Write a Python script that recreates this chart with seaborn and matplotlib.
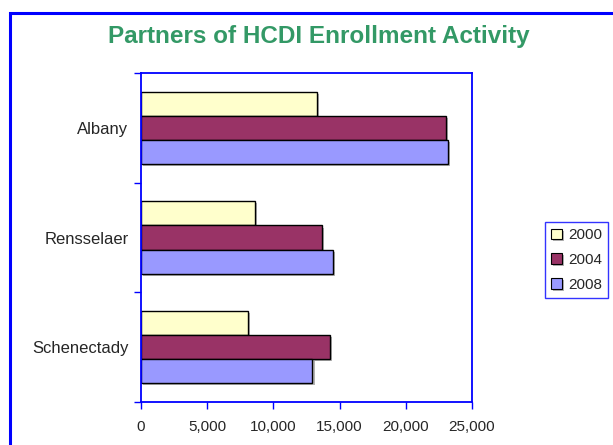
import matplotlib
matplotlib.use('Agg')
import matplotlib.pyplot as plt
import matplotlib.patheffects as pe
from matplotlib.patches import Rectangle
from matplotlib.ticker import FuncFormatter, FixedLocator
import pandas as pd
import seaborn as sns

#--- data
counties = ['Albany', 'Rensselaer', 'Schenectady']
years = ['2000', '2004', '2008']
v2000 = [13300, 8600, 8100]
v2004 = [23050, 13700, 14300]
v2008 = [23150, 14500, 12950]
colors = ['#FFFFCC', '#993366', '#9999FF']

rows = []
for yr, vals in zip(years, [v2000, v2004, v2008]):
    for c, v in zip(counties, vals):
        rows.append({'county': c, 'year': yr, 'value': v})
df = pd.DataFrame(rows)

sns.set_style('white')
plt.rcParams['font.family'] = ['Liberation Sans', 'DejaVu Sans']

blue = '#0000FF'
fig = plt.figure(figsize=(6.13, 4.45), dpi=100)
ax = fig.add_axes([141/613, 1-402/445, (472-141)/613, (402-73)/445])

sns.barplot(data=df, x='value', y='county', hue='year', orient='h',
            palette=colors, width=0.66, edgecolor='black', linewidth=1.0,
            saturation=1, ax=ax, legend=True)

shadow = [pe.SimplePatchShadow(offset=(1.5, -1.5), shadow_rgbFace='gray', alpha=0.6), pe.Normal()]
for p in ax.patches:
    p.set_path_effects(shadow)

ax.set_xlim(0, 25000)
ax.set_ylim(2.5, -0.5)
ax.set_xticks(range(0, 25001, 5000))
ax.xaxis.set_major_formatter(FuncFormatter(lambda v, _: f'{int(v):,}'))
ax.yaxis.set_major_locator(FixedLocator([-0.5, 0.5, 1.5, 2.5]))
ax.yaxis.set_minor_locator(FixedLocator([0, 1, 2]))
ax.set_yticklabels([], minor=False)
ax.set_yticklabels(counties, minor=True)
ax.tick_params(axis='y', which='major', length=5, width=1, color=blue, direction='out', left=True)
ax.tick_params(axis='y', which='minor', length=0, labelsize=12, pad=9)
ax.tick_params(axis='x', length=5, width=1, color=blue, direction='out', bottom=True,
               labelsize=11, pad=8)
ax.set_xlabel('')
ax.set_ylabel('')
for s in ax.spines.values():
    s.set_color(blue)
    s.set_linewidth(1.3)
    s.set_visible(True)

handles, labels = ax.get_legend_handles_labels()
ax.legend_.remove()
leg = fig.legend(handles, labels, loc='center left', bbox_to_anchor=(545/613, 1-260/445),
                 frameon=True, fancybox=False, fontsize=11, handlelength=0.7,
                 handleheight=0.7, handletextpad=0.4, borderpad=0.4, labelspacing=0.7,
                 borderaxespad=0)
leg.get_frame().set_edgecolor(blue)
leg.get_frame().set_linewidth(1.0)
for h in leg.legend_handles:
    h.set_edgecolor('black')
    h.set_linewidth(0.8)

fig.text(319/613, 1-37/445, 'Partners of HCDI Enrollment Activity', ha='center', va='center',
         fontsize=17.5, fontweight='bold', color='#339966')

fig.add_artist(Rectangle((9.5/613, -0.1), 1.2, 1.1 - 13/445, transform=fig.transFigure,
                         fill=False, edgecolor=blue, linewidth=2.2, clip_on=False))

plt.savefig('out.png', dpi=100)
